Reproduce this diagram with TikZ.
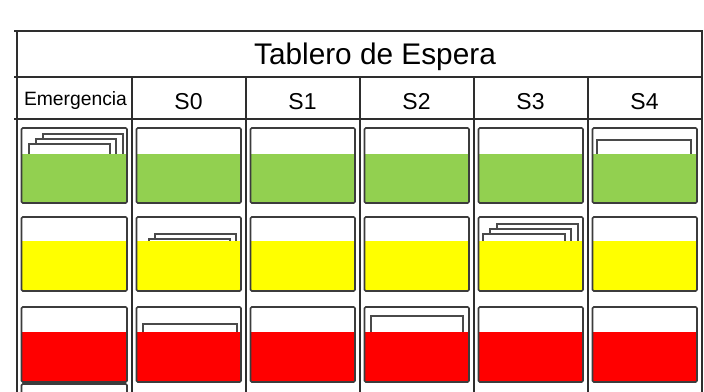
\documentclass[tikz,border=0pt]{standalone}
\usepackage{fontspec}
\setmainfont{Liberation Sans}
\definecolor{cgreen}{HTML}{92D050}
\definecolor{cyellow}{HTML}{FFFF00}
\definecolor{cred}{HTML}{FF0000}
\definecolor{gridc}{HTML}{2E2E2E}
\definecolor{bord}{HTML}{3C3C3C}
\definecolor{foldc}{HTML}{4A4A4A}
\tikzset{
  gridline/.style={draw=gridc, line width=1.6pt},
  cardbox/.style={draw=bord, line width=1.6pt, rounded corners=1.2pt, inner sep=0pt, outer sep=0pt, anchor=north west},
  folder/.style={draw=foldc, fill=white, line width=1.1pt},
  titletext/.style={font=\fontsize{29.8}{31}\selectfont, anchor=base},
  headtext/.style={font=\fontsize{23}{25}\selectfont, anchor=base},
  emtext/.style={font=\fontsize{19.3}{21}\selectfont, anchor=base},
}
\begin{document}
\begin{tikzpicture}[x=1pt,y=-1pt]
\useasboundingbox (0,0) rectangle (704,391);
\clip (0,0) rectangle (704,391);

% ---------- table grid ----------
\coordinate (t0) at (14,31);   \coordinate (t1) at (703,31);
\coordinate (h0) at (14,77);   \coordinate (h1) at (702,77);
\coordinate (b0) at (14,119);  \coordinate (b1) at (702,119);
\draw[gridline] (t0) -- (t1);
\draw[gridline] (h0) -- (h1);
\draw[gridline] (b0) -- (b1);
\coordinate (L0) at (17,31);  \coordinate (L1) at (17,395);
\coordinate (R0) at (702,31); \coordinate (R1) at (702,395);
\draw[gridline] (L0) -- (L1);
\draw[gridline] (R0) -- (R1);
\foreach \x [count=\k] in {132,246,360,474,588} {
  \coordinate (v\k a) at (\x,77);
  \coordinate (v\k b) at (\x,395);
  \draw[gridline] (v\k a) -- (v\k b);
}

% ---------- texts ----------
\node[titletext] (title) at (375,64.5) {Tablero de Espera};
\node[emtext] (hE) at (75.5,105) {Emergencia};
\node[headtext] (hS0) at (188.5,109) {S0};
\node[headtext] (hS1) at (302.5,109) {S1};
\node[headtext] (hS2) at (416.5,109) {S2};
\node[headtext] (hS3) at (530.5,109) {S3};
\node[headtext] (hS4) at (644.5,109) {S4};

% ---------- folders (behind the colour) ----------
% Emergencia, green row: three
\draw[folder] (43,134) rectangle (123,158);
\draw[folder] (36,139) rectangle (116,158);
\draw[folder] (29,144) rectangle (110,158);
% S4, green row: one
\draw[folder] (597,140) rectangle (691,158);
% S0, yellow row: two
\draw[folder] (155,234) rectangle (236,246);
\draw[folder] (149,239) rectangle (230,246);
% S3, yellow row: three
\draw[folder] (497,224) rectangle (578,245);
\draw[folder] (490,229) rectangle (571,245);
\draw[folder] (483,234) rectangle (565,245);
% S0, red row: one
\draw[folder] (143,324) rectangle (237,336);
% S2, red row: one
\draw[folder] (371,316) rectangle (463,336);

% ---------- cards ----------
\foreach \r/\ya/\yb/\yf/\col in {0/128/203/154/cgreen, 1/217/291/241/cyellow, 2/307/382/332/cred} {
  \foreach \xa/\xb [count=\i] in {17/132,132/246,246/360,360/474,474/588,588/702} {
    \pgfmathsetmacro\cx{\xa+4.5}
    \pgfmathsetmacro\cw{\xb-\xa-9.5}
    \pgfmathsetmacro\ch{\yb-\ya}
    \fill[\col] (\cx+0.8,\yf) rectangle (\cx+\cw-0.8,\yb-0.8);
    \node[cardbox, minimum width=\cw pt, minimum height=\ch pt] (card-\r-\i) at (\cx,\ya) {};
  }
}
% next card, just started, in the Emergencia column
\node[cardbox, minimum width=105.5pt, minimum height=30pt] (card-3-1) at (21.5,384) {};
\end{tikzpicture}
\end{document}
